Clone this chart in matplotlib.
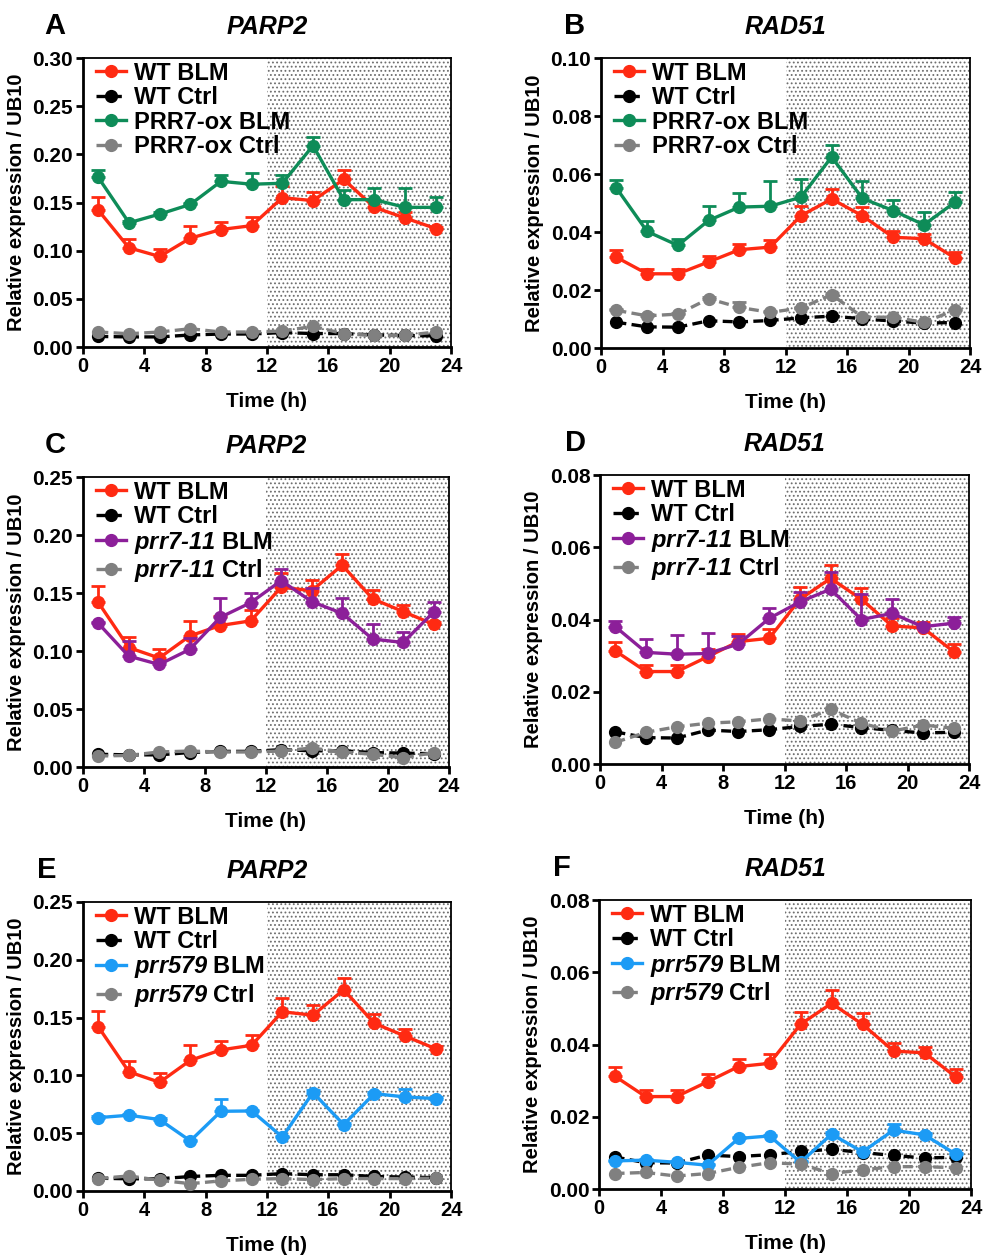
"""Six-panel PARP2 / RAD51 time course (WT vs PRR7 lines) with dark-period stipple."""

import matplotlib

matplotlib.use("Agg")
import matplotlib.pyplot as plt

plt.rcParams["font.family"] = ["Liberation Sans", "DejaVu Sans"]
plt.rcParams["font.weight"] = "bold"
plt.rcParams["mathtext.fontset"] = "custom"
plt.rcParams["mathtext.it"] = "Liberation Sans:bold:italic"
plt.rcParams["mathtext.rm"] = "Liberation Sans:bold:italic"
plt.rcParams["mathtext.bf"] = "Liberation Sans:bold:italic"
plt.rcParams["hatch.linewidth"] = 0.8

hours = [1, 3, 5, 7, 9, 11, 13, 15, 17, 19, 21, 23]

# WT series (shared across panels of the same gene)
wt_blm_parp2 = [0.142, 0.103, 0.094, 0.113, 0.122, 0.126, 0.155, 0.152, 0.174, 0.145, 0.134, 0.123]
wt_blm_parp2_err = [0.014, 0.009, 0.008, 0.013, 0.008, 0.009, 0.012, 0.009, 0.010, 0.008, 0.006, 0.002]
wt_ctrl_parp2 = [0.011, 0.0105, 0.0105, 0.0125, 0.0135, 0.0135, 0.015, 0.014, 0.014, 0.0125, 0.012, 0.0115]

wt_blm_rad51 = [0.0313, 0.0256, 0.0256, 0.0297, 0.0339, 0.0348, 0.0456, 0.0514, 0.0456, 0.0382, 0.0377, 0.0311]
wt_blm_rad51_err = [0.0026, 0.0017, 0.0017, 0.0021, 0.0021, 0.0026, 0.0033, 0.0036, 0.0030, 0.0023, 0.0017, 0.0021]
wt_ctrl_rad51 = [0.0089, 0.0073, 0.0072, 0.0094, 0.0090, 0.0095, 0.0104, 0.0110, 0.0101, 0.0093, 0.0086, 0.0088]

# PRR7-ox
ox_blm_parp2 = [0.176, 0.129, 0.138, 0.148, 0.172, 0.169, 0.170, 0.209, 0.153, 0.153, 0.145, 0.145]
ox_blm_parp2_err = [0.008, 0.002, 0.002, 0.002, 0.007, 0.012, 0.009, 0.009, 0.010, 0.012, 0.020, 0.011]
ox_ctrl_parp2 = [0.0156, 0.0138, 0.0156, 0.019, 0.0156, 0.0156, 0.0166, 0.0215, 0.0138, 0.012, 0.012, 0.0156]
ox_blm_rad51 = [0.0552, 0.0402, 0.0354, 0.0440, 0.0486, 0.0489, 0.0520, 0.0659, 0.0516, 0.0474, 0.0425, 0.0502]
ox_blm_rad51_err = [0.0028, 0.0037, 0.0023, 0.0049, 0.0048, 0.0088, 0.0064, 0.0042, 0.0059, 0.0037, 0.0044, 0.0036]
ox_ctrl_rad51 = [0.0130, 0.0111, 0.0117, 0.0170, 0.0140, 0.0123, 0.0138, 0.0184, 0.0107, 0.0106, 0.0089, 0.0130]
ox_ctrl_rad51_err = [0.0005, 0.0005, 0.0005, 0.0005, 0.0020, 0.0005, 0.0005, 0.0005, 0.0005, 0.0005, 0.0005, 0.0005]

# prr7-11
p711_blm_parp2 = [0.124, 0.0956, 0.0884, 0.1014, 0.129, 0.1417, 0.1607, 0.1426, 0.1325, 0.1103, 0.1074, 0.1336]
p711_blm_parp2_err = [0.001, 0.013, 0.002, 0.010, 0.017, 0.008, 0.010, 0.012, 0.013, 0.013, 0.009, 0.009]
p711_ctrl_parp2 = [0.0095, 0.010, 0.013, 0.0138, 0.013, 0.013, 0.0138, 0.0164, 0.013, 0.011, 0.008, 0.0124]
p711_blm_rad51 = [0.0380, 0.0309, 0.0304, 0.0306, 0.0332, 0.0403, 0.0449, 0.0484, 0.0400, 0.0417, 0.0380, 0.0390]
p711_blm_rad51_err = [0.0016, 0.0036, 0.0053, 0.0056, 0.0022, 0.0030, 0.0026, 0.0048, 0.0072, 0.0039, 0.0007, 0.0018]
p711_ctrl_rad51 = [0.0060, 0.0088, 0.0103, 0.0113, 0.0117, 0.0125, 0.0119, 0.0151, 0.0113, 0.0091, 0.0108, 0.0099]

# prr579
p579_blm_parp2 = [0.0634, 0.0655, 0.0617, 0.0433, 0.0689, 0.0692, 0.0467, 0.0851, 0.0574, 0.0842, 0.0813, 0.0799]
p579_blm_parp2_err = [0.001, 0.001, 0.001, 0.001, 0.011, 0.001, 0.001, 0.002, 0.001, 0.001, 0.007, 0.001]
p579_ctrl_parp2 = [0.0107, 0.013, 0.0092, 0.0063, 0.0087, 0.0101, 0.0107, 0.0098, 0.0107, 0.0107, 0.0107, 0.011]
p579_blm_rad51 = [0.0078, 0.0080, 0.0074, 0.0066, 0.0140, 0.0147, 0.0074, 0.0152, 0.0103, 0.0163, 0.0150, 0.0097]
p579_blm_rad51_err = [0.0003, 0.0003, 0.0003, 0.0003, 0.0004, 0.0004, 0.0003, 0.0005, 0.0003, 0.0017, 0.0004, 0.0004]
p579_ctrl_rad51 = [0.0043, 0.0046, 0.0036, 0.0043, 0.0060, 0.0073, 0.0069, 0.0043, 0.0053, 0.0062, 0.0062, 0.0059]

RED = "#ff2a12"
BLACK = "#000000"
GREEN = "#0e8c58"
PURPLE = "#8c1f99"
BLUE = "#1c9bf5"
GRAY = "#808080"

LW = 2.4
MS = 8.5


def draw_panel(rect, letter, gene, ymax, ystep, blm, blm_err, ctrl,
               mut_name, mut_color, mut_blm, mut_blm_err, mut_ctrl,
               mut_ctrl_err=None, letter_dx=-0.105):
    ax = fig.add_axes(rect)
    ax.axvspan(12, 24, facecolor="white", edgecolor="#6e6e6e",
               hatch="....", linewidth=0, zorder=0)

    series = [
        (blm, blm_err, RED, "-", "WT BLM"),
        (ctrl, None, BLACK, "--", "WT Ctrl"),
        (mut_blm, mut_blm_err, mut_color, "-", mut_name + " BLM"),
        (mut_ctrl, mut_ctrl_err, GRAY, "--", mut_name + " Ctrl"),
    ]
    for i, (vals, err, color, ls, label) in enumerate(series):
        z = 3 + i
        if err is not None:
            ax.errorbar(hours, vals, yerr=[[0] * len(err), err], fmt="none",
                        ecolor=color, elinewidth=2, capsize=5, capthick=2,
                        zorder=z)
        line, = ax.plot(hours, vals, ls, color=color, lw=LW, marker="o",
                        ms=MS, label=label, zorder=z)
        if ls == "--":
            line.set_dashes((3, 1.6))

    ax.set_xlim(0, 24)
    ax.set_ylim(0, ymax)
    ax.set_xticks(range(0, 25, 4))
    ticks = [ystep * k for k in range(int(round(ymax / ystep)) + 1)]
    ax.set_yticks(ticks)
    ax.set_yticklabels([f"{t:.2f}" for t in ticks])
    ax.tick_params(direction="out", length=5, width=2, pad=2)
    ax.tick_params(axis="y", labelsize=15)
    ax.tick_params(axis="x", labelsize=14.5)
    for s in ("left", "bottom"):
        ax.spines[s].set_linewidth(2)
    for s in ("top", "right"):
        ax.spines[s].set_linewidth(1.3)

    ax.set_xlabel("Time (h)", fontsize=15, fontweight="bold", labelpad=12)
    ax.set_ylabel("Relative expression / UB10", fontsize=14.5,
                  fontweight="bold", labelpad=5)
    ax.set_title(gene, fontsize=18, fontweight="bold", fontstyle="italic",
                 pad=17)
    ax.text(letter_dx, 1.11, letter, transform=ax.transAxes, fontsize=21,
            fontweight="bold", ha="left", va="center")

    leg = ax.legend(loc="upper left", frameon=False, fontsize=17,
                    handlelength=1.25, handletextpad=0.35, labelspacing=0.06,
                    borderaxespad=0.0, bbox_to_anchor=(0.01, 1.02))
    for h in leg.legend_handles:
        h.set_markersize(MS)
    return ax


fig = plt.figure(figsize=(9.83, 12.56), dpi=100)

ox = "PRR7-ox"
p711 = r"$prr7\text{-}11$"
p579 = r"$prr579$"

draw_panel([0.0844, 0.7237, 0.3744, 0.2301], "A", "PARP2", 0.30, 0.05,
           wt_blm_parp2, wt_blm_parp2_err, wt_ctrl_parp2,
           ox, GREEN, ox_blm_parp2, ox_blm_parp2_err, ox_ctrl_parp2,
           letter_dx=-0.105)
draw_panel([0.6114, 0.7229, 0.3754, 0.2309], "B", "RAD51", 0.10, 0.02,
           wt_blm_rad51, wt_blm_rad51_err, wt_ctrl_rad51,
           ox, GREEN, ox_blm_rad51, ox_blm_rad51_err, ox_ctrl_rad51,
           ox_ctrl_rad51_err, letter_dx=-0.10)
draw_panel([0.0844, 0.3893, 0.3723, 0.2309], "C", "PARP2", 0.25, 0.05,
           wt_blm_parp2, wt_blm_parp2_err, wt_ctrl_parp2,
           p711, PURPLE, p711_blm_parp2, p711_blm_parp2_err, p711_ctrl_parp2,
           letter_dx=-0.105)
draw_panel([0.6104, 0.3917, 0.3754, 0.2301], "D", "RAD51", 0.08, 0.02,
           wt_blm_rad51, wt_blm_rad51_err, wt_ctrl_rad51,
           p711, PURPLE, p711_blm_rad51, p711_blm_rad51_err, p711_ctrl_rad51,
           letter_dx=-0.095)
draw_panel([0.0844, 0.0518, 0.3744, 0.2301], "E", "PARP2", 0.25, 0.05,
           wt_blm_parp2, wt_blm_parp2_err, wt_ctrl_parp2,
           p579, BLUE, p579_blm_parp2, p579_blm_parp2_err, p579_ctrl_parp2,
           letter_dx=-0.125)
draw_panel([0.6094, 0.0533, 0.3784, 0.2301], "F", "RAD51", 0.08, 0.02,
           wt_blm_rad51, wt_blm_rad51_err, wt_ctrl_rad51,
           p579, BLUE, p579_blm_rad51, p579_blm_rad51_err, p579_ctrl_rad51,
           letter_dx=-0.125)

fig.savefig("out.png", dpi=100)
